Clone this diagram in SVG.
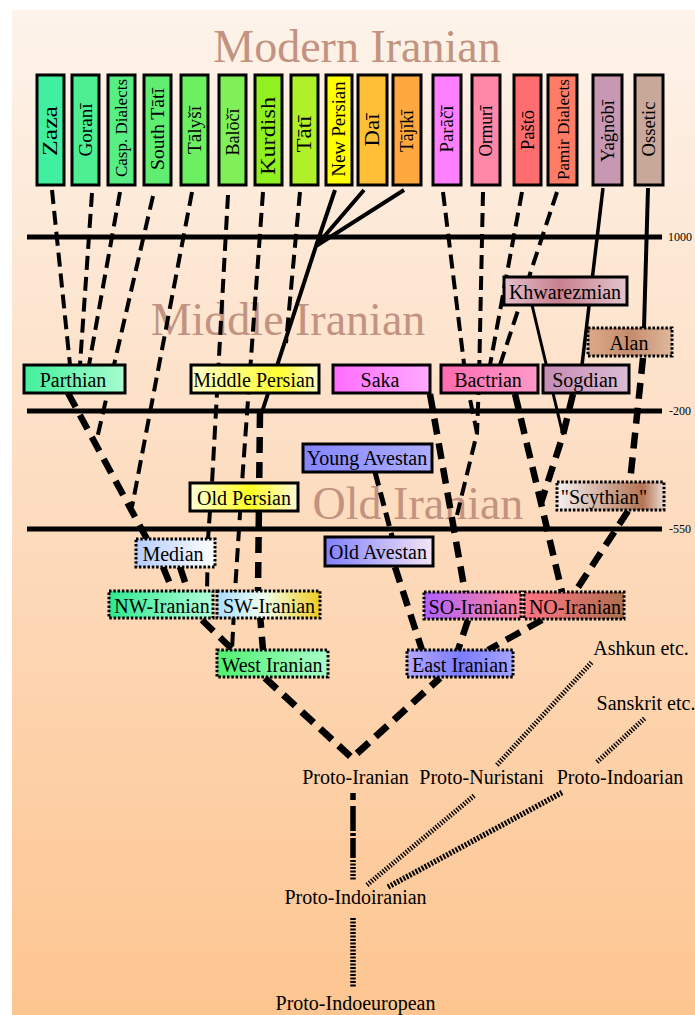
<svg xmlns="http://www.w3.org/2000/svg" width="695" height="1015" viewBox="0 0 695 1015">
<defs>
<linearGradient id="bg" x1="0" y1="0" x2="0" y2="1"><stop offset="0" stop-color="#fdf3ea"/><stop offset="0.5" stop-color="#fddcbf"/><stop offset="1" stop-color="#fdc590"/></linearGradient>
<linearGradient id="gParth" x1="0" x2="1"><stop offset="0" stop-color="#40f09c"/><stop offset="1" stop-color="#a8fcd0"/></linearGradient>
<linearGradient id="gMP" x1="0" x2="1"><stop offset="0" stop-color="#ffffc8"/><stop offset="0.7" stop-color="#ffff30"/><stop offset="1" stop-color="#ffffc8"/></linearGradient>
<linearGradient id="gSaka" x1="0" x2="1"><stop offset="0" stop-color="#ff6cff"/><stop offset="1" stop-color="#ffaaff"/></linearGradient>
<linearGradient id="gBac" x1="0" x2="1"><stop offset="0" stop-color="#ff6cb0"/><stop offset="1" stop-color="#ff98c8"/></linearGradient>
<linearGradient id="gSog" x1="0" x2="1"><stop offset="0" stop-color="#c48cb4"/><stop offset="1" stop-color="#dcbcd4"/></linearGradient>
<linearGradient id="gKhw" x1="0" x2="1"><stop offset="0" stop-color="#e4c0cc"/><stop offset="0.45" stop-color="#c8808e"/><stop offset="1" stop-color="#e4c4cc"/></linearGradient>
<linearGradient id="gAlan" x1="0" x2="1"><stop offset="0" stop-color="#dcaa88"/><stop offset="0.5" stop-color="#c48c6c"/><stop offset="1" stop-color="#e0b89c"/></linearGradient>
<linearGradient id="gYA" x1="0" x2="1"><stop offset="0" stop-color="#8484ff"/><stop offset="1" stop-color="#aeaeff"/></linearGradient>
<linearGradient id="gOP" x1="0" x2="1"><stop offset="0" stop-color="#ffffd8"/><stop offset="0.55" stop-color="#ffff20"/><stop offset="1" stop-color="#fff8d8"/></linearGradient>
<linearGradient id="gScy" x1="0" x2="1"><stop offset="0" stop-color="#f4f0f0"/><stop offset="0.8" stop-color="#b47454"/><stop offset="1" stop-color="#ecdcd4"/></linearGradient>
<linearGradient id="gMed" x1="0" x2="1"><stop offset="0" stop-color="#b4ccff"/><stop offset="1" stop-color="#ffffff"/></linearGradient>
<linearGradient id="gOA" x1="0" x2="1"><stop offset="0" stop-color="#8080ff"/><stop offset="1" stop-color="#f4e4f4"/></linearGradient>
<linearGradient id="gNW" x1="0" x2="1"><stop offset="0" stop-color="#30e890"/><stop offset="1" stop-color="#b0ffd8"/></linearGradient>
<linearGradient id="gSW" x1="0" x2="1"><stop offset="0" stop-color="#a8dcff"/><stop offset="0.45" stop-color="#f0fff0"/><stop offset="1" stop-color="#f0cc20"/></linearGradient>
<linearGradient id="gSO" x1="0" x2="1"><stop offset="0" stop-color="#b060ff"/><stop offset="1" stop-color="#ff8498"/></linearGradient>
<linearGradient id="gNO" x1="0" x2="1"><stop offset="0" stop-color="#ff7484"/><stop offset="1" stop-color="#b07050"/></linearGradient>
<linearGradient id="gWI" x1="0" x2="1"><stop offset="0" stop-color="#50f070"/><stop offset="1" stop-color="#a8ffc8"/></linearGradient>
<linearGradient id="gEI" x1="0" x2="1"><stop offset="0" stop-color="#b4a8ff"/><stop offset="0.5" stop-color="#7c7cff"/><stop offset="1" stop-color="#a4a4ff"/></linearGradient>
</defs>
<style>
.box{stroke:#000;stroke-width:3}
.dot{stroke:#000;stroke-width:3;stroke-dasharray:2.5 1.8}
text{font-family:"Liberation Serif","Times New Roman",serif;fill:#000}
.l{font-size:20px;text-anchor:middle}
.v{font-size:19px;text-anchor:middle}
.p{font-size:20px;text-anchor:middle}
.yr{font-size:12px}
.title{font-size:46px;text-anchor:middle;fill:#c29380}
.tl{stroke:#000;stroke-width:5}
#connectors path{fill:none;stroke:#000}
.d{stroke-width:4;stroke-dasharray:14 7}
.t{stroke-width:6.5;stroke-dasharray:16 9}
.s{stroke-width:4}
.s3{stroke-width:3}
.h{stroke-width:5;stroke-dasharray:1.4 1.6}
.h2{stroke-width:5.5;stroke-dasharray:2 1.5}
</style>
<rect x="0" y="0" width="695" height="1015" fill="#ffffff"/>
<rect x="12" y="10" width="683" height="1005" fill="url(#bg)"/>

<g id="titles">
<text class="title" font-family="Liberation Serif, serif" x="357" y="62">Modern Iranian</text>
<text class="title" font-family="Liberation Serif, serif" x="288" y="335">Middle Iranian</text>
<text class="title" font-family="Liberation Serif, serif" x="418" y="519">Old Iranian</text>
</g>

<g id="timeline">
<line class="tl" x1="27" y1="237" x2="662" y2="237"/>
<line class="tl" x1="27" y1="411" x2="662" y2="411"/>
<line class="tl" x1="27" y1="529" x2="662" y2="529"/>
<text class="yr" x="668" y="241">1000</text>
<text class="yr" x="669" y="415">-200</text>
<text class="yr" x="669" y="533">-550</text>
</g>

<g id="connectors">
<path class="d" d="M52,190 L70,365"/>
<path class="d" d="M92,193 L80,365"/>
<path class="d" d="M120,192 L89,365"/>
<path class="d" d="M153,196 L96,443"/>
<path class="d" d="M192,192 L132,507"/>
<path class="d" d="M228,195 L212,483 L208,539 L207,591"/>
<path class="d" d="M263,192 L242,483 L235,591 L232,650"/>
<path class="d" d="M300,192 L286,343"/>
<path class="d" d="M443,192 L466,380 L477,433 L457,515"/>
<path class="d" d="M483,192 L479,380 L477,433"/>
<path class="d" d="M522,192 L490,365"/>
<path class="d" d="M557,192 L500,365"/>
<path class="d" style="stroke-width:5" d="M375,472 L393,540"/>
<path class="t" d="M68,393 L95,443 L147,539"/>
<path class="t" d="M163,567 L173,591"/>
<path class="t" d="M180,567 L188,591"/>
<path class="t" d="M202,620 L233,650"/>
<path class="t" d="M260,412 L258,591 L263,650"/>
<path class="t" d="M430,394 L465,592"/>
<path class="t" d="M515,394 L541,503 L562,592"/>
<path class="t" d="M573,394 L563,435 L541,503"/>
<path class="t" d="M643,358 L630,482"/>
<path class="t" d="M628,511 L575,592"/>
<path class="t" d="M395,567 L422,650"/>
<path class="t" d="M468,620 L458,650"/>
<path class="t" d="M542,620 L488,650"/>
<path class="t" style="stroke-width:7" d="M265,678 L352,758 L440,678"/>
<path class="s" d="M335,190 L316,246 M364,190 L316,246 M404,190 L316,246 L262,412"/>
<path class="s" style="stroke-width:3.5" d="M603,188 L582,365"/>
<path class="s" d="M648,188 L644,328"/>
<path class="s3" d="M532,305 L563,435"/>
<path style="stroke-width:5.5;stroke-dasharray:7 6 25 2 3 2 20 200" d="M353,793 L353,858"/>
<path class="h2" d="M353,860 L353,880"/>
<path class="h2" d="M353,918 L353,988"/>
<path class="h" d="M367,885 L475,795"/>
<path class="h2" d="M388,887 L563,792"/>
<path class="h" d="M497,765 L592,662"/>
<path class="h" d="M597,762 L645,718"/>
</g>

<g id="modern">
<g id="n-zaza"><rect class="box" x="37" y="75" width="27" height="110" fill="#40f0a0"/><text class="v" style="font-size:21px" textLength="50" lengthAdjust="spacingAndGlyphs" transform="translate(57,131) rotate(-90)">Zaza</text></g>
<g id="n-gorani"><rect class="box" x="72" y="75" width="27" height="110" fill="#4eee92"/><text class="v" textLength="53" lengthAdjust="spacingAndGlyphs" transform="translate(92,130) rotate(-90)">Goranī</text></g>
<g id="n-casp"><rect class="box" x="108" y="75" width="27" height="110" fill="#58ee84"/><text class="v" style="font-size:17.5px" textLength="98" lengthAdjust="spacingAndGlyphs" transform="translate(127,128) rotate(-90)">Casp. Dialects</text></g>
<g id="n-southtati"><rect class="box" x="144" y="75" width="27" height="110" fill="#60ee72"/><text class="v" textLength="82" lengthAdjust="spacingAndGlyphs" transform="translate(163.5,129) rotate(-90)">South Tātī</text></g>
<g id="n-talysi"><rect class="box" x="181" y="75" width="27" height="110" fill="#6cf062"/><text class="v" textLength="48" lengthAdjust="spacingAndGlyphs" transform="translate(200.5,130) rotate(-90)">Tālyšī</text></g>
<g id="n-baloci"><rect class="box" x="219" y="75" width="27" height="110" fill="#80f058"/><text class="v" textLength="47" lengthAdjust="spacingAndGlyphs" transform="translate(238.5,132) rotate(-90)">Balōčī</text></g>
<g id="n-kurdish"><rect class="box" x="255" y="75" width="27" height="110" fill="#90f020"/><text class="v" style="font-size:21px" textLength="78" lengthAdjust="spacingAndGlyphs" transform="translate(275,136) rotate(-90)">Kurdish</text></g>
<g id="n-tati"><rect class="box" x="291" y="75" width="27" height="110" fill="#b0f028"/><text class="v" style="font-size:21px" textLength="37" lengthAdjust="spacingAndGlyphs" transform="translate(311,134) rotate(-90)">Tātī</text></g>
<g id="n-newpersian"><rect class="box" x="326" y="75" width="26" height="110" fill="#ffff00"/><text class="v" textLength="95" lengthAdjust="spacingAndGlyphs" transform="translate(345,129) rotate(-90)">New Persian</text></g>
<g id="n-dai"><rect class="box" x="358" y="75" width="29" height="110" fill="#ffc038"/><text class="v" style="font-size:21px" textLength="33" lengthAdjust="spacingAndGlyphs" transform="translate(379,130) rotate(-90)">Daī</text></g>
<g id="n-tajiki"><rect class="box" x="393" y="75" width="28" height="110" fill="#ffa840"/><text class="v" style="font-size:18px" textLength="42" lengthAdjust="spacingAndGlyphs" transform="translate(413,131) rotate(-90)">Tājīkī</text></g>
<g id="n-paraci"><rect class="box" x="433" y="75" width="28" height="110" fill="#ff80ff"/><text class="v" textLength="47" lengthAdjust="spacingAndGlyphs" transform="translate(453,129) rotate(-90)">Parāčī</text></g>
<g id="n-ormuri"><rect class="box" x="472" y="75" width="28" height="110" fill="#ff88a8"/><text class="v" style="font-size:18px" textLength="51" lengthAdjust="spacingAndGlyphs" transform="translate(492,131) rotate(-90)">Ormurī</text></g>
<g id="n-pasto"><rect class="box" x="514" y="75" width="27" height="110" fill="#ff6e6e"/><text class="v" textLength="40" lengthAdjust="spacingAndGlyphs" transform="translate(534,130) rotate(-90)">Paštō</text></g>
<g id="n-pamir"><rect class="box" x="548" y="75" width="29" height="110" fill="#ff7c66"/><text class="v" style="font-size:17.5px" textLength="101" lengthAdjust="spacingAndGlyphs" transform="translate(568.5,129.5) rotate(-90)">Pamir Dialects</text></g>
<g id="n-yagnobi"><rect class="box" x="593" y="75" width="29" height="110" fill="#c898b2"/><text class="v" style="font-size:18px" textLength="62" lengthAdjust="spacingAndGlyphs" transform="translate(613.5,131) rotate(-90)">Yaġnōbī</text></g>
<g id="n-ossetic"><rect class="box" x="635" y="75" width="28" height="110" fill="#c8a898"/><text class="v" textLength="55" lengthAdjust="spacingAndGlyphs" transform="translate(655,129) rotate(-90)">Ossetic</text></g>
</g>

<g id="middle">
<g id="n-parthian"><rect class="box" x="24" y="365" width="101" height="28" fill="url(#gParth)"/><text class="l" x="73" y="387">Parthian</text></g>
<g id="n-middlepersian"><rect class="box" x="191" y="365" width="128" height="28" fill="url(#gMP)"/><text class="l" x="254" y="387">Middle Persian</text></g>
<g id="n-saka"><rect class="box" x="333" y="365" width="97" height="28" fill="url(#gSaka)"/><text class="l" x="380" y="387">Saka</text></g>
<g id="n-bactrian"><rect class="box" x="441" y="365" width="97" height="28" fill="url(#gBac)"/><text class="l" x="488" y="387">Bactrian</text></g>
<g id="n-sogdian"><rect class="box" x="543" y="365" width="86" height="28" fill="url(#gSog)"/><text class="l" x="585" y="387">Sogdian</text></g>
<g id="n-khwarezmian"><rect class="box" x="504" y="277" width="123" height="28" fill="url(#gKhw)"/><text class="l" x="565" y="299">Khwarezmian</text></g>
<g id="n-alan"><rect class="dot" x="588" y="328" width="84" height="28" fill="url(#gAlan)"/><text class="l" x="629" y="350">Alan</text></g>
</g>

<g id="old">
<g id="n-youngavestan"><rect class="box" x="303" y="444" width="129" height="28" fill="url(#gYA)"/><text class="l" x="367" y="465">Young Avestan</text></g>
<g id="n-oldpersian"><rect class="box" x="190" y="483" width="108" height="28" fill="url(#gOP)"/><text class="l" x="244" y="505">Old Persian</text></g>
<g id="n-scythian"><rect class="dot" x="557" y="482" width="107" height="28" fill="url(#gScy)"/><text class="l" x="604" y="504">"Scythian"</text></g>
<g id="n-median"><rect class="dot" x="136" y="539" width="79" height="28" fill="url(#gMed)"/><text class="l" x="173" y="561">Median</text></g>
<g id="n-oldavestan"><rect class="box" x="325" y="537" width="108" height="29" fill="url(#gOA)"/><text class="l" x="378" y="559">Old Avestan</text></g>
<g id="n-nwiranian"><rect class="dot" x="109" y="591" width="104" height="27" fill="url(#gNW)"/><text class="l" x="162" y="613">NW-Iranian</text></g>
<g id="n-swiranian"><rect class="dot" x="217" y="591" width="103" height="27" fill="url(#gSW)"/><text class="l" x="269" y="613">SW-Iranian</text></g>
<g id="n-soiranian"><rect class="dot" x="424" y="592" width="97" height="27" fill="url(#gSO)"/><text class="l" x="473" y="614">SO-Iranian</text></g>
<g id="n-noiranian"><rect class="dot" x="524" y="592" width="100" height="27" fill="url(#gNO)"/><text class="l" x="575" y="614">NO-Iranian</text></g>
<g id="n-westiranian"><rect class="dot" x="217" y="650" width="111" height="27" fill="url(#gWI)"/><text class="l" x="272" y="672">West Iranian</text></g>
<g id="n-eastiranian"><rect class="dot" x="407" y="650" width="106" height="27" fill="url(#gEI)"/><text class="l" x="460" y="672">East Iranian</text></g>
</g>

<g id="proto">
<g id="n-ashkun"><text class="p" x="641" y="655">Ashkun etc.</text></g>
<g id="n-sanskrit"><text class="p" x="646" y="710">Sanskrit etc.</text></g>
<g id="n-protoiranian"><text class="p" x="355.5" y="784">Proto-Iranian</text></g>
<g id="n-protonuristani"><text class="p" x="481.5" y="784">Proto-Nuristani</text></g>
<g id="n-protoindoarian"><text class="p" x="620" y="784">Proto-Indoarian</text></g>
<g id="n-protoindoiranian"><text class="p" x="355.5" y="904">Proto-Indoiranian</text></g>
<g id="n-protoindoeuropean"><text class="p" x="355.5" y="1010">Proto-Indoeuropean</text></g>
</g>
</svg>
